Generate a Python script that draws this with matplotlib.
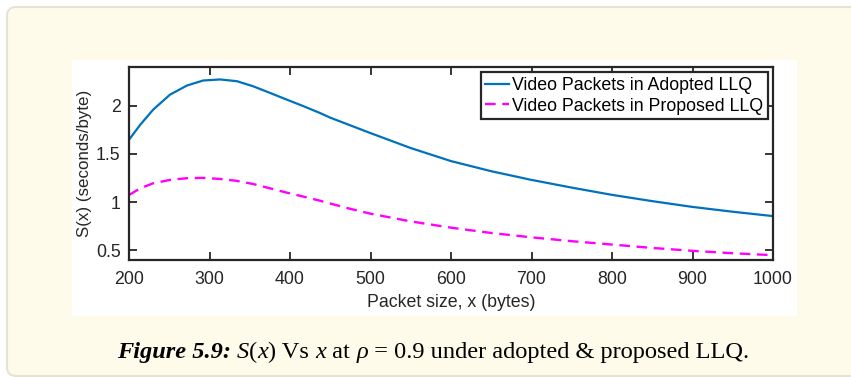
import matplotlib
matplotlib.use("Agg")
import matplotlib.pyplot as plt
from matplotlib.patches import FancyBboxPatch, Rectangle

# values
packet_size = [200, 214, 230, 251, 272, 292, 313, 334, 354, 375, 396, 417, 437,
               450, 475, 500, 550, 600, 650, 700, 750, 800, 850, 900, 950, 1000]
adopted_llq = [1.646, 1.802, 1.958, 2.114, 2.208, 2.260, 2.271, 2.253, 2.201, 2.132,
               2.062, 1.993, 1.924, 1.875, 1.795, 1.715, 1.56, 1.425, 1.32, 1.23,
               1.15, 1.075, 1.01, 0.95, 0.90, 0.855]
proposed_llq = [1.074, 1.143, 1.195, 1.230, 1.248, 1.251, 1.240, 1.220, 1.188, 1.143,
                1.098, 1.056, 1.015, 0.985, 0.93, 0.88, 0.80, 0.735, 0.68, 0.635,
                0.595, 0.56, 0.525, 0.495, 0.47, 0.45]
x_ticks = [200, 300, 400, 500, 600, 700, 800, 900, 1000]
y_ticks = [0.5, 1, 1.5, 2]
y_tick_labels = ["0.5", "1", "1.5", "2"]

W, H = 851, 377
plt.rcParams["font.family"] = ["Liberation Sans", "DejaVu Sans"]
fs = 12.8

fig = plt.figure(figsize=(W / 100, H / 100), dpi=100, facecolor="white")

# cream page box with rounded corners (pixel coords)
page = FancyBboxPatch((7, 1), 870, H - 8, boxstyle="round,pad=0,rounding_size=9",
                      transform=None, facecolor="#fefbea", edgecolor="#e6e3d4",
                      linewidth=1.5, zorder=0)
fig.patches.append(page)

# white area of the embedded chart image
fig.patches.append(Rectangle((72 / W, (H - 316) / H), 725 / W, 256 / H,
                             transform=fig.transFigure, facecolor="white",
                             edgecolor="none", zorder=1))

ax = fig.add_axes([129 / W, (H - 260) / H, (773 - 129) / W, (260 - 67) / H])
ax.set_zorder(2)

ax.plot(packet_size, adopted_llq, color="#0072bd", lw=1.6,
        label="Video Packets in Adopted LLQ")
ax.plot(packet_size, proposed_llq, color="#ff00ff", lw=1.7, ls=(0, (4.5, 2.8)),
        label="Video Packets in Proposed LLQ")

ax.set_xlim(200, 1000)
ax.set_ylim(0.4, 2.4)
ax.set_xticks(x_ticks)
ax.set_yticks(y_ticks)
ax.set_yticklabels(y_tick_labels)
ax.tick_params(direction="in", length=6, width=1.3, top=True, right=True,
               labelsize=fs, colors="#262626")
ax.tick_params(axis="x", pad=8)
ax.tick_params(axis="y", pad=6)
for sp in ax.spines.values():
    sp.set_linewidth(1.6)
    sp.set_color("#262626")

ax.set_xlabel("Packet size, x (bytes)", fontsize=fs, color="#262626", labelpad=4)
ax.set_ylabel("S(x) (seconds/byte)", fontsize=12.2, color="#262626", labelpad=3)

leg = ax.legend(loc="upper right", fontsize=fs, handlelength=1.35, handletextpad=0.15,
                borderpad=0.25, labelspacing=0.22, borderaxespad=0.3, fancybox=False,
                framealpha=1, edgecolor="#262626")
leg.get_frame().set_linewidth(1.6)

# caption, drawn piece by piece on a shared baseline
pieces = [("Figure 5.9:", "italic", "bold"), (" ", "normal", "normal"),
          ("S", "italic", "normal"), ("(", "normal", "normal"),
          ("x", "italic", "normal"), (") Vs ", "normal", "normal"),
          ("x", "italic", "normal"), (" at ", "normal", "normal"),
          ("ρ", "italic", "normal"),
          (" = 0.9 under adopted & proposed LLQ.", "normal", "normal")]
cap_size = 17.6
renderer = fig.canvas.get_renderer()


def text_width(s, style, weight):
    # bars around the piece keep edge spaces in the measured width
    t1 = fig.text(0, 0, "|" + s + "|", fontsize=cap_size, family="Liberation Serif",
                  style=style, weight=weight)
    t2 = fig.text(0, 0, "||", fontsize=cap_size, family="Liberation Serif",
                  style=style, weight=weight)
    w = t1.get_window_extent(renderer).width - t2.get_window_extent(renderer).width
    t1.remove()
    t2.remove()
    return w


x_px = 117
y_base = (H - 358) / H
for s, style, weight in pieces:
    fig.text(x_px / W, y_base, s, fontsize=cap_size, family="Liberation Serif",
             style=style, weight=weight, color="black", va="baseline", ha="left")
    x_px += text_width(s, style, weight)

fig.savefig("out.png", dpi=100, facecolor="white")
